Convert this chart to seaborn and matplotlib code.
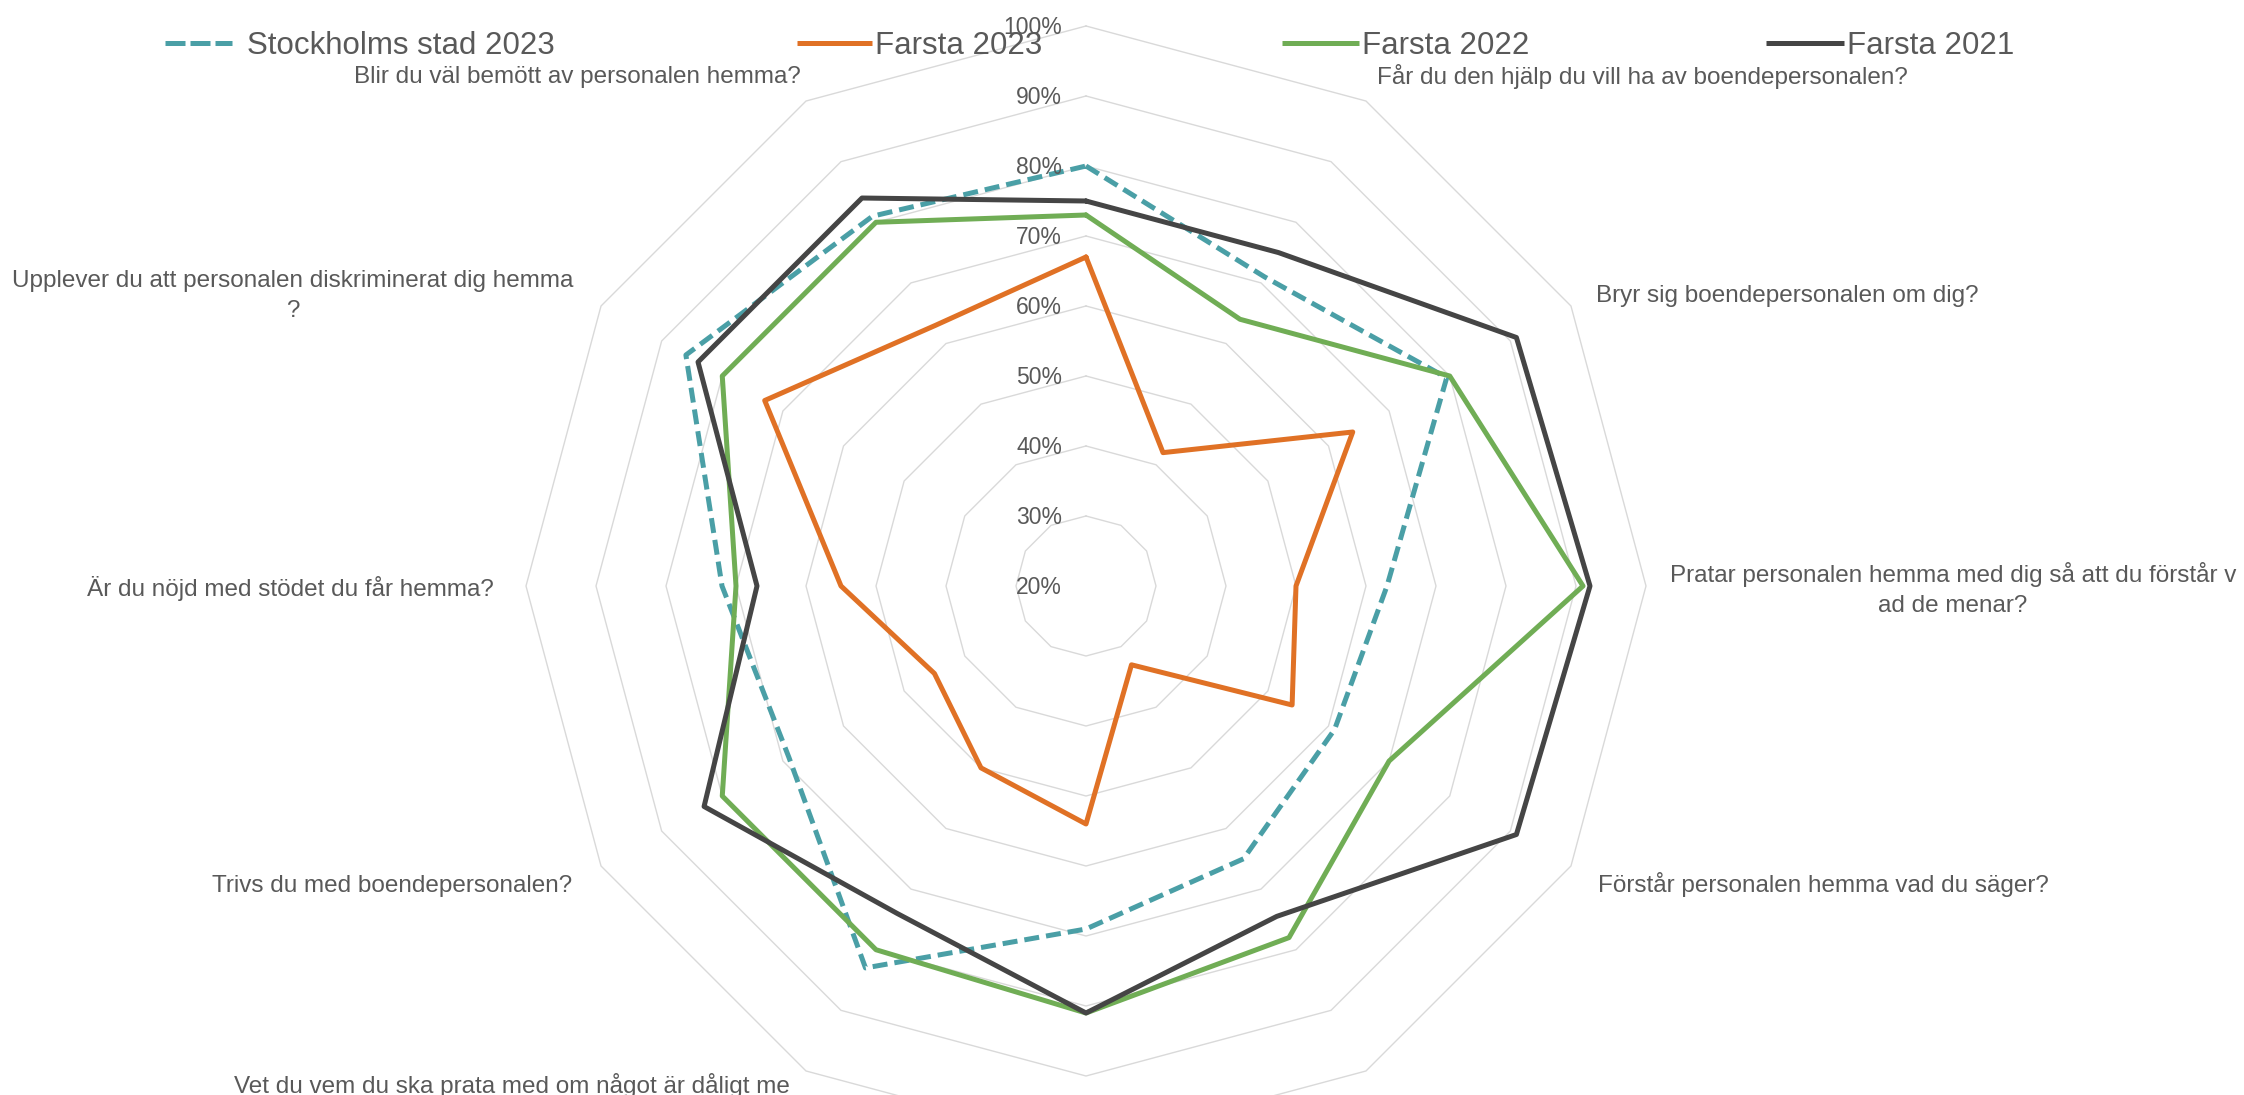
import numpy as np
import pandas as pd
import matplotlib
matplotlib.use("Agg")
import matplotlib.pyplot as plt
from matplotlib.lines import Line2D
import seaborn as sns

# ---------------- data ----------------
categories = [
    "",  # top axis label, cut off in the reference
    "Får du den hjälp du vill ha av boendepersonalen?",
    "Bryr sig boendepersonalen om dig?",
    "Pratar personalen hemma med dig så att du förstår v\nad de menar?",
    "Förstår personalen hemma vad du säger?",
    "",  # cut off
    "",  # cut off
    "Vet du vem du ska prata med om något är dåligt me",
    "Trivs du med boendepersonalen?",
    "Är du nöjd med stödet du får hemma?",
    "Upplever du att personalen diskriminerat dig hemma\n?",
    "Blir du väl bemött av personalen hemma?",
]
series_names = ["Stockholms stad 2023", "Farsta 2023", "Farsta 2022", "Farsta 2021"]
stockholm_2023 = [80, 71, 79.5, 63, 61, 65, 69, 83, 69, 72, 86, 81]
farsta_2023 = [67, 42, 64, 50, 54, 33, 54, 50, 45, 55, 73, 63]
farsta_2022 = [73, 64, 80, 91, 70, 78, 81, 80, 80, 70, 80, 80]
farsta_2021 = [75, 75, 91, 92, 91, 74.5, 81, 74, 83, 67, 84, 84]
radial_ticks = [20, 30, 40, 50, 60, 70, 80, 90, 100]
tick_labels = [f"{t}%" for t in radial_ticks]

# ---------------- style ----------------
colors = {
    "Stockholms stad 2023": "#4A9FA6",
    "Farsta 2023": "#E07125",
    "Farsta 2022": "#70AD55",
    "Farsta 2021": "#454545",
}
dash_map = {
    "Stockholms stad 2023": (3.0, 1.4),
    "Farsta 2023": "",
    "Farsta 2022": "",
    "Farsta 2021": "",
}
TEXT = "#595959"
GRID = "#D9D9D9"

sns.set_theme(style="white")
plt.rcParams["font.family"] = ["Liberation Sans", "DejaVu Sans"]

W, H = 2244, 1095
fig = plt.figure(figsize=(W / 100, H / 100), dpi=100)
fig.patch.set_facecolor("white")
cx, cy, R = 1086, 586, 560
ax = fig.add_axes([(cx - R) / W, (H - cy - R) / H, 2 * R / W, 2 * R / H],
                  projection="polar")
ax.set_facecolor("none")
ax.set_theta_zero_location("N")
ax.set_theta_direction(-1)

n = len(categories)
theta = np.linspace(0, 2 * np.pi, n, endpoint=False)
theta_closed = np.append(theta, 2 * np.pi)

# polygon grid rings
for lvl in radial_ticks[1:]:
    ax.plot(theta_closed, [lvl] * (n + 1), color=GRID, lw=1.0, zorder=0.5,
            clip_on=False)

rows = []
for name, vals in zip(series_names,
                      [stockholm_2023, farsta_2023, farsta_2022, farsta_2021]):
    vv = list(vals) + [vals[0]]
    for t, v in zip(theta_closed, vv):
        rows.append({"theta": t, "value": v, "series": name})
df = pd.DataFrame(rows)

sns.lineplot(data=df, x="theta", y="value", hue="series", style="series",
             hue_order=series_names, style_order=series_names,
             palette=colors, dashes=dash_map, sort=False, estimator=None,
             lw=3.6, legend=False, ax=ax)
for ln in ax.get_lines():
    ln.set_clip_on(False)
    ln.set_dash_capstyle("butt")

ax.set_ylim(20, 100)
ax.set_xticks([])
ax.set_yticks([])
ax.grid(False)
ax.spines["polar"].set_visible(False)
ax.set_xlabel("")
ax.set_ylabel("")

# radial tick labels
for t, lab in zip(radial_ticks, tick_labels):
    ax.annotate(lab, xy=(0, t), xytext=(-24, -8), textcoords="offset pixels",
                ha="right", va="baseline", fontsize=16.5, color=TEXT,
                annotation_clip=False)

# category labels (offsets in pixels from the 100% vertex; baseline of last line)
label_place = {
    1: (11, 17, "left"),
    2: (25, 4, "left"),
    3: (307, -26, "center"),
    4: (27, -26, "left"),
    7: (-16, -22, "right"),
    8: (-29, -26, "right"),
    9: (-32, -10, "right"),
    10: (-308, -11, "center"),
    11: (-5, 18, "right"),
}
for i, (dx, dy, ha) in label_place.items():
    ax.annotate(categories[i], xy=(theta[i], 100), xytext=(dx, dy),
                textcoords="offset pixels", ha=ha, va="baseline",
                multialignment="center", fontsize=17.5, color=TEXT,
                linespacing=1.45, annotation_clip=False)

# legend, one entry per slot like the reference
legend_slots = [(165, 2.15, 0.48), (797, 2.4, 0.1), (1282, 2.45, 0.1),
                (1766, 2.5, 0.1)]
for name, (x0, hl, tp) in zip(series_names, legend_slots):
    if dash_map[name]:
        h = Line2D([], [], color=colors[name], lw=3.6, dashes=(4.0, 1.0),
                   dash_capstyle="butt")
    else:
        h = Line2D([], [], color=colors[name], lw=3.6, solid_capstyle="butt")
    leg = fig.legend(handles=[h], labels=[name], loc="center left",
                     bbox_to_anchor=(x0 / W, 1 - 46 / H), frameon=False,
                     fontsize=22.5, handlelength=hl, handletextpad=tp,
                     borderpad=0, borderaxespad=0)
    for txt in leg.get_texts():
        txt.set_color(TEXT)

fig.savefig("out.png", dpi=100)
